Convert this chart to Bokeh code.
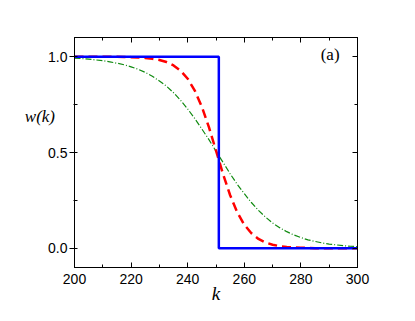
from bokeh.plotting import figure
from bokeh.models import (Range1d, LinearAxis, SingleIntervalTicker, Label,
                          NumeralTickFormatter)
from bokeh.embed import file_html
from bokeh.resources import INLINE

# ---- data ----
k = [200, 202.5, 205, 207.5, 210, 212.5, 215, 217.5, 220, 222.5, 225, 227.5,
     230, 232.5, 235, 237.5, 240, 242.5, 245, 247.5, 250, 252.5, 255, 257.5,
     260, 262.5, 265, 267.5, 270, 272.5, 275, 277.5, 280, 282.5, 285, 287.5,
     290, 292.5, 295, 297.5, 300]
w_red = [1.000, 0.9999, 0.9999, 0.9998, 0.9997, 0.9995, 0.9991, 0.9986, 0.9976,
         0.9961, 0.9936, 0.9894, 0.9827, 0.9718, 0.9543, 0.9269, 0.885, 0.823,
         0.739, 0.632, 0.510, 0.387, 0.277, 0.188, 0.123, 0.079, 0.049, 0.030,
         0.019, 0.011, 0.007, 0.004, 0.003, 0.002, 0.001, 0.001, 0.0, 0.0, 0.0,
         0.0, 0.0]
w_green = [0.992, 0.990, 0.987, 0.983, 0.979, 0.973, 0.966, 0.958, 0.947, 0.934,
           0.918, 0.898, 0.873, 0.846, 0.812, 0.772, 0.727, 0.677, 0.623, 0.567,
           0.507, 0.448, 0.389, 0.334, 0.285, 0.239, 0.198, 0.163, 0.132, 0.108,
           0.087, 0.070, 0.056, 0.044, 0.036, 0.028, 0.022, 0.018, 0.014, 0.011,
           0.009]
k_step = [200, 251, 251, 300]
w_step = [1.0, 1.0, 0.0, 0.0]

p = figure(width=408, height=317, output_backend="svg", toolbar_location=None,
           x_range=Range1d(200, 300), y_range=Range1d(-0.1, 1.1),
           min_border_left=74, min_border_right=51, min_border_top=37,
           min_border_bottom=50, x_axis_location=None, y_axis_location=None)
p.grid.visible = False
p.outline_line_color = "black"
p.outline_line_width = 1
p.border_fill_color = "white"
p.background_fill_color = "white"

def make_axis(ticker, side, fmt):
    ax = LinearAxis(ticker=ticker, formatter=NumeralTickFormatter(format=fmt))
    ax.axis_line_color = "black"
    ax.major_tick_line_color = "black"
    ax.minor_tick_line_color = "black"
    ax.major_label_text_font = "Liberation Sans"
    ax.major_label_text_font_size = "14px"
    ax.major_label_text_color = "black"
    ax.axis_label_text_font = "Liberation Serif"
    ax.axis_label_text_font_style = "italic"
    ax.axis_label_text_color = "black"
    if side == "below":
        ax.major_tick_in, ax.major_tick_out = 5, 0
        ax.minor_tick_in, ax.minor_tick_out = 3, 0
        ax.major_label_standoff = 6
    elif side == "left":
        ax.major_tick_in, ax.major_tick_out = 0, 5
        ax.minor_tick_in, ax.minor_tick_out = 3, 1
        ax.major_label_standoff = 2
    else:
        ax.major_tick_in, ax.major_tick_out = 5, 0
        ax.minor_tick_in, ax.minor_tick_out = 3, 0
        ax.major_label_text_color = None
        ax.major_label_standoff = 0
    p.add_layout(ax, side)
    return ax

xb = make_axis(SingleIntervalTicker(interval=20, num_minor_ticks=2), "below", "0")
make_axis(SingleIntervalTicker(interval=20, num_minor_ticks=2), "above", "0")
yl = make_axis(SingleIntervalTicker(interval=0.5, num_minor_ticks=2), "left", "0.0")
make_axis(SingleIntervalTicker(interval=0.5, num_minor_ticks=2), "right", "0.0")

xb.axis_label = "k"
xb.axis_label_text_font_size = "19px"
xb.axis_label_standoff = -4

# horizontal y label, lifted above the axis centre with blank trailing lines
yl.axis_label = "w(k)\n \n \n "
yl.axis_label_orientation = "horizontal"
yl.axis_label_text_font_size = "17px"
yl.axis_label_text_line_height = 1.27
yl.axis_label_standoff = -10

p.line(k, w_green, line_color="#108a10", line_width=1.2, line_dash="6 2 1 2")
p.line(k, w_red, line_color="#ff0000", line_width=2.5, line_dash="9 5")
p.line(k_step, w_step, line_color="#0000ff", line_width=2.5)

p.add_layout(Label(x=287.0, y=1.06, text="(a)", text_font="Liberation Serif",
                   text_font_size="17px", text_color="black",
                   text_align="left", text_baseline="top"))

open("out.html", "w").write(file_html(p, INLINE))
